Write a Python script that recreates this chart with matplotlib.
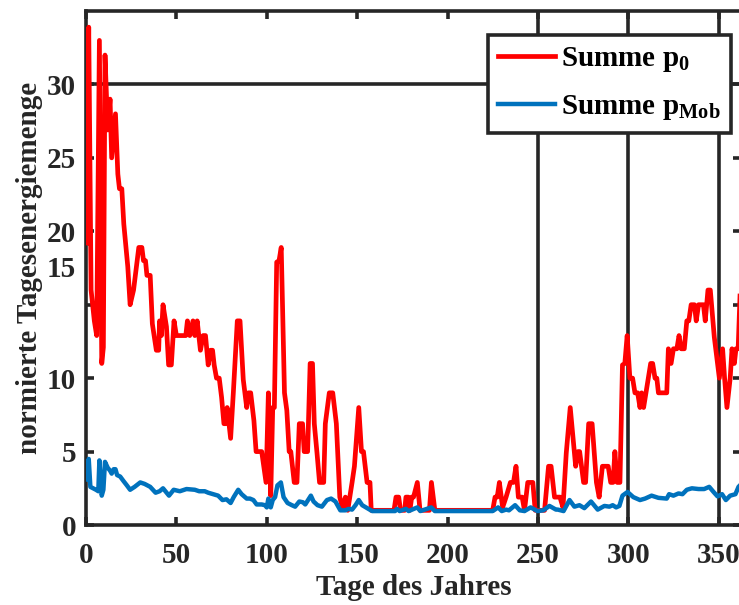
import matplotlib
matplotlib.use('Agg')
from matplotlib import pyplot as plt

# Values (day of year, normalised daily energy)
red_days = [0.3, 1.5, 2.8, 4.6, 5.9, 7.4, 8.7, 9.6, 10.5, 12.0, 13.3, 14.2, 16.3, 17.6, 18.5, 19.8,
            20.9, 23.1, 24.4, 26.3, 29.2, 30.9, 31.8, 32.9, 33.7, 35.5, 36.7, 38.9, 40.2, 40.7, 41.7,
            42.6, 44.5, 45.7, 47.2, 48.7, 50.0, 55.2, 56.1, 57.4, 59.2, 60.2, 61.5, 63.3, 64.8, 66.1,
            67.6, 68.9, 70.0, 70.9, 72.2, 73.7, 75.0, 76.3, 77.2, 78.1, 80.0, 81.5, 83.7, 85.2, 87.0,
            88.9, 89.8, 91.1, 92.9, 94.1, 97.2, 99.6, 100.9, 102.2, 103.3, 104.2, 105.5, 106.8, 108.0,
            109.8, 111.1, 112.4, 113.3, 115.2, 116.7, 118.0, 119.8, 120.7, 122.6, 124.0, 125.3, 126.3,
            127.8, 129.2, 131.5, 132.4, 134.6, 136.5, 138.5, 140.4, 142.0, 143.5, 144.8, 147.2, 148.5,
            150.9, 152.4, 153.5, 155.5, 157.1, 157.8, 170.4, 171.5, 173.0, 174.0, 176.3, 177.0, 178.3,
            179.2, 180.2, 181.2, 183.3, 184.8, 190.0, 191.1, 193.0, 225.0, 226.3, 227.5, 228.7, 230.5,
            232.4, 234.8, 236.5, 237.9, 239.2, 241.3, 242.6, 244.4, 247.2, 248.5, 253.7, 255.9, 257.3,
            259.2, 262.2, 263.9, 265.7, 267.9, 270.9, 272.2, 273.1, 275.3, 276.4, 278.1, 280.0, 282.4,
            283.9, 285.7, 288.9, 290.3, 291.6, 292.6, 293.9, 295.4, 296.8, 298.1, 299.4, 300.9, 302.4,
            303.7, 305.2, 306.5, 307.4, 308.5, 312.4, 313.5, 314.8, 315.8, 316.7, 321.3, 322.2, 323.7,
            325.0, 326.9, 328.1, 329.3, 331.0, 332.4, 333.5, 334.8, 336.6, 337.6, 338.9, 341.6, 342.6,
            344.1, 345.4, 347.6, 349.4, 350.4, 352.2, 353.3, 354.6, 356.4, 357.4, 358.7, 359.6, 360.8,
            362.6, 364.0]
red_vals = [19.2, 33.9, 16.0, 13.9, 12.9, 33.0, 11.0, 12.1, 32.0, 26.9, 29.0, 25.0, 28.0, 23.9, 22.9, 22.9,
            20.5, 17.6, 15.0, 16.0, 18.9, 18.9, 18.0, 18.0, 17.0, 17.0, 13.7, 11.9, 11.9, 13.9, 12.9,
            15.0, 13.5, 10.9, 10.9, 13.9, 12.9, 12.9, 13.9, 12.9, 13.9, 12.9, 13.9, 11.9, 12.9, 12.9,
            10.9, 11.9, 11.9, 10.9, 10.0, 10.0, 8.7, 6.9, 6.9, 8.0, 5.9, 9.0, 13.9, 13.9, 9.9,
            8.0, 9.0, 9.0, 7.1, 5.0, 5.0, 2.9, 9.0, 2.0, 8.0, 8.0, 17.9, 18.0, 18.9,
            9.0, 7.8, 5.0, 5.0, 2.9, 2.9, 6.9, 6.9, 5.0, 5.0, 11.0, 11.0, 6.9,
            4.9, 2.9, 2.9, 6.9, 9.0, 9.0, 6.9, 1.9, 1.1, 1.9, 1.0, 2.9, 4.0,
            8.0, 5.0, 5.0, 2.9, 2.9, 1.0, 1.0, 1.9, 1.9, 1.0, 1.0, 1.9, 1.9,
            1.0, 1.9, 1.9, 2.9, 1.0, 1.0, 2.9, 1.0, 1.0, 1.9, 1.9, 2.9, 1.2,
            1.9, 2.9, 2.9, 4.0, 1.9, 1.9, 1.0, 2.9, 2.9, 1.0, 1.0, 4.0, 4.0,
            1.9, 1.9, 1.2, 4.9, 8.0, 4.0, 5.0, 5.0, 2.9, 2.9, 6.9, 6.9, 2.9,
            1.9, 4.0, 4.0, 2.9, 2.9, 5.0, 2.9, 2.9, 10.9, 11.0, 12.9, 10.0, 10.0,
            9.0, 9.0, 8.0, 9.0, 8.0, 11.0, 11.0, 10.0, 10.0, 9.0, 9.0, 12.0, 11.0,
            12.0, 12.0, 12.9, 12.0, 12.0, 13.9, 13.9, 15.0, 15.0, 13.9, 15.0, 15.0, 13.9,
            16.0, 16.0, 12.8, 11.0, 10.0, 12.0, 10.0, 8.0, 10.0, 12.0, 11.0, 12.0, 12.0,
            18.3, 20.0]

blue_days = [0.3, 1.5, 2.4, 5.5, 6.8, 7.4, 8.7, 9.6, 10.5, 12.0, 13.3, 14.2, 15.3, 16.3, 17.2, 18.9,
             20.7, 22.6, 24.4, 26.9, 30.0, 32.4, 35.5, 38.5, 40.7, 42.6, 45.9, 48.5, 51.9, 55.6, 60.2,
             62.6, 65.7, 67.6, 70.4, 73.1, 75.5, 77.7, 80.0, 81.7, 84.2, 86.1, 88.9, 90.7, 92.6, 94.4,
             97.2, 99.0, 100.0, 100.9, 102.2, 103.3, 104.6, 105.9, 107.8, 109.3, 111.5, 113.9, 115.7,
             118.0, 120.0, 121.3, 124.4, 125.9, 128.1, 130.5, 133.3, 135.6, 138.0, 140.7, 143.5, 145.3,
             147.2, 149.1, 150.9, 152.8, 155.5, 158.3, 171.0, 172.0, 173.5, 177.0, 178.5, 183.3, 185.0,
             191.0, 193.0, 225.0, 228.0, 230.0, 232.4, 234.0, 237.4, 240.0, 242.6, 246.0, 249.8, 253.0,
             256.4, 260.0, 261.0, 264.2, 267.5, 270.2, 273.0, 275.7, 279.4, 283.1, 286.8, 289.6, 291.4,
             293.3, 295.1, 296.8, 299.6, 302.8, 306.5, 309.3, 312.9, 316.7, 321.3, 322.6, 325.0, 327.8,
             330.0, 332.4, 335.2, 338.9, 342.0, 344.8, 347.2, 349.4, 351.9, 354.0, 356.4, 359.3, 361.0,
             362.6, 364.0]
blue_vals = [3.1, 4.5, 2.6, 2.4, 2.3, 4.4, 2.0, 2.4, 4.3, 3.9, 3.7, 3.5, 3.8, 3.8, 3.4, 3.3,
             3.0, 2.7, 2.4, 2.6, 2.9, 2.8, 2.6, 2.2, 2.3, 2.5, 2.0, 2.4, 2.3, 2.45, 2.4,
             2.3, 2.3, 2.2, 2.1, 2.0, 1.7, 1.75, 1.5, 1.9, 2.4, 2.1, 1.8, 1.8, 1.7, 1.4,
             1.4, 1.35, 1.2, 1.8, 1.2, 1.7, 1.9, 2.7, 2.9, 1.9, 1.5, 1.35, 1.25,
             1.6, 1.55, 1.4, 2.0, 1.6, 1.35, 1.25, 1.7, 1.8, 1.6, 1.0, 1.0, 1.1,
             1.05, 1.35, 1.7, 1.35, 1.15, 0.95, 0.95, 1.1, 0.95, 1.1, 0.95, 1.2, 0.95,
             1.2, 0.95, 0.95, 1.2, 0.95, 1.05, 1.0, 1.35, 1.0, 0.95, 1.2, 0.95, 1.0,
             1.3, 1.05, 1.05, 0.95, 1.7, 1.25, 1.35, 1.15, 1.6, 1.05, 1.3, 1.25, 1.35,
             1.2, 1.3, 2.0, 2.25, 1.9, 1.7, 1.8, 2.0, 1.85, 1.8, 2.1, 2.0, 2.15,
             2.1, 2.4, 2.5, 2.45, 2.45, 2.6, 2.25, 1.95, 2.1, 1.7, 2.0, 2.1, 2.6,
             2.8, 3.0]

x_ticks = [0, 50, 100, 150, 200, 250, 300, 350]
y_ticks = [0, 5, 10, 15, 20, 25, 30]
y_tick_labels = ['0', '5', '10', '', '20', '25', '30']
ref_days = [250, 300, 350]
ref_level = 30

dark = '#262626'
plt.rcParams['font.family'] = ['Liberation Serif', 'DejaVu Serif']
plt.rcParams['font.weight'] = 'bold'
plt.rcParams['mathtext.fontset'] = 'custom'
plt.rcParams['mathtext.rm'] = 'Liberation Serif'
plt.rcParams['mathtext.bf'] = 'Liberation Serif:bold'

fig = plt.figure(figsize=(7.39, 6.05), dpi=100)
ax = fig.add_axes([0.1164, 0.1322, 0.8866, 0.8496])

# stray reference lines from the original figure
for d in ref_days:
    ax.axvline(d, color=dark, lw=2.6, zorder=1)
ax.axhline(ref_level, color=dark, lw=2.6, zorder=1)

ax.plot(red_days, red_vals, color='#FF0000', lw=3.4, label=r'Summe $\mathbf{p}_{\mathbf{0}}$', zorder=3)
ax.plot(blue_days, blue_vals, color='#0072BD', lw=3.2, label=r'Summe $\mathbf{p}_{\mathrm{Mob}}$', zorder=4)

ax.set_xlim(0, 362.5)
ax.set_ylim(0, 35)
ax.set_xticks(x_ticks)
ax.set_yticks(y_ticks)
ax.set_yticklabels(y_tick_labels)
# the "15" label sits above its tick in the original
ax.text(-0.016, 17.4, '15', transform=ax.get_yaxis_transform(), ha='right', va='center',
        fontsize=21, fontweight='bold', color=dark)

for s in ax.spines.values():
    s.set_linewidth(2.6)
    s.set_color(dark)
ax.tick_params(direction='in', length=6, width=2.6, colors=dark, labelsize=21,
               top=True, right=True)
ax.tick_params(axis='x', pad=12)
ax.tick_params(axis='y', pad=7)
for lab in ax.get_xticklabels() + ax.get_yticklabels():
    lab.set_fontweight('bold')

ax.set_xlabel('Tage des Jahres', fontsize=21, fontweight='bold', color=dark, labelpad=4)
ax.set_ylabel('normierte Tagesenergiemenge', fontsize=21, fontweight='bold', color=dark, labelpad=3)

leg = ax.legend(loc='upper right', bbox_to_anchor=(0.984, 0.953), fontsize=21, frameon=True,
                fancybox=False, framealpha=1, handlelength=1.95, handletextpad=0.2,
                borderpad=0.35, labelspacing=0.65, borderaxespad=0)
leg.get_frame().set_edgecolor(dark)
leg.get_frame().set_linewidth(2.6)
leg.set_zorder(10)
for t in leg.get_texts():
    t.set_fontweight('bold')

fig.savefig('out.png', dpi=100)
